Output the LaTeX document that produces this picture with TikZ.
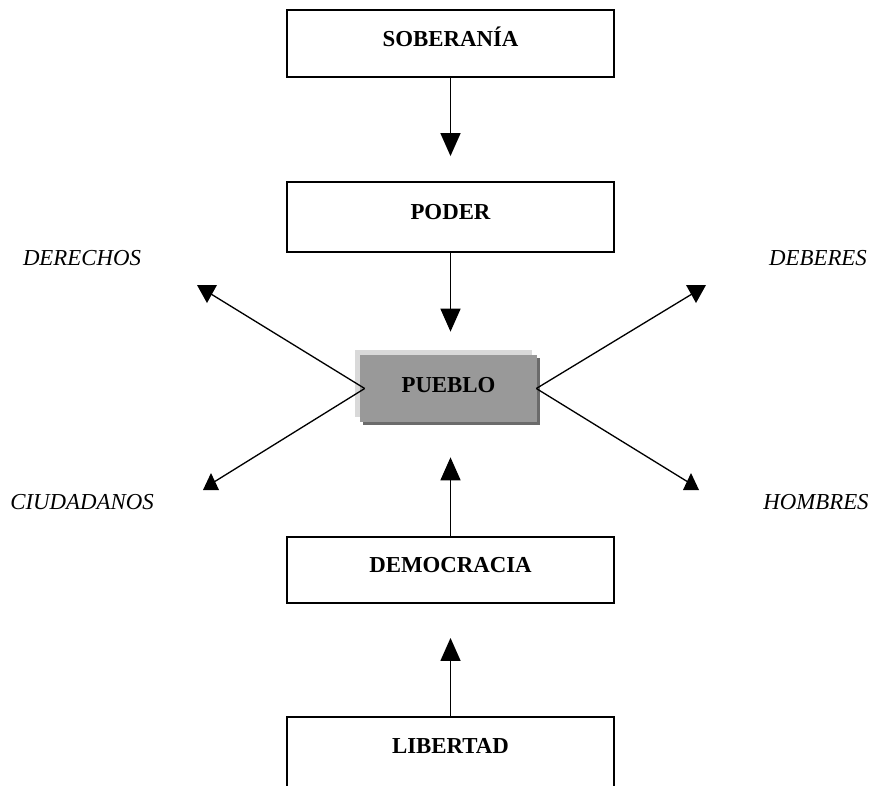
\documentclass[tikz,border=0pt]{standalone}
\usepackage{fontspec}
\setmainfont{Liberation Serif}
\usepackage{tikz}
\usetikzlibrary{arrows.meta, shadows}
\usepackage{xcolor}

\definecolor{puebloGray}{gray}{0.6}
\definecolor{shadeLight}{gray}{0.85}
\definecolor{shadeDark}{gray}{0.42}

\begin{document}
\begin{tikzpicture}[x=0.02cm, y=-0.02cm,
    box/.style={draw, line width=1.1pt, minimum width=6.54cm, minimum height=1.34cm,
        font=\fontsize{13}{15}\selectfont\bfseries, text height=9pt, text depth=6pt},
    pueblobox/.style={fill=puebloGray, minimum width=3.54cm, minimum height=1.34cm,
        font=\fontsize{13}{15}\selectfont\bfseries, text height=9pt, text depth=4pt,
        general shadow={fill=shadeLight, shadow xshift=-0.1cm, shadow yshift=0.1cm},
        general shadow={fill=shadeDark, shadow xshift=0.06cm, shadow yshift=-0.06cm}},
    tag/.style={font=\fontsize{13}{15}\selectfont\itshape},
    vline/.style={line width=0.9pt, -{Triangle[width=0.4cm, length=0.46cm]}},
    dline/.style={line width=0.75pt},
    headdown/.pic={\fill (0,0) -- (-10,-18) -- (10,-18) -- cycle;},
    headup/.pic={\fill (0,0) -- (-8,17) -- (8,17) -- cycle;}]
    \useasboundingbox (0,0) rectangle (872,785);
    \clip (0,0) rectangle (872,785);

    % Chain of boxes
    \node[box] (soberania) at (450.5,43.5) {SOBERANÍA};
    \node[box, minimum height=1.4cm] (poder) at (450.5,217) {PODER};
    \node[pueblobox] (pueblo) at (448.5,388.5) {PUEBLO};
    \node[box, minimum height=1.32cm] (democracia) at (450.5,570) {DEMOCRACIA};
    % last box runs off the bottom edge
    \node[box, minimum height=1.5cm, text depth=10pt] (libertad) at (450.5,754.5) {LIBERTAD};

    % Vertical arrows
    \draw[vline, shorten >=0.5cm] (soberania) -- (poder);
    \draw[vline, shorten >=0.46cm] (poder.south) -- (poder.south |- pueblo.north);
    \draw[vline, shorten >=0.7cm] (democracia.north) -- (democracia.north |- pueblo.south);
    \draw[vline, shorten >=0.68cm] (libertad) -- (democracia);

    % Side labels
    \node[tag] (derechos) at (82,258) {DERECHOS};
    \node[tag] (ciudadanos) at (82,502) {CIUDADANOS};
    \node[tag] (deberes) at (818,258) {DEBERES};
    \node[tag] (hombres) at (816,502) {HOMBRES};

    % Diagonal arrows out of PUEBLO
    \coordinate (endDer) at (211,294);
    \coordinate (endCiu) at (214,482);
    \coordinate (endDeb) at (692,294);
    \coordinate (endHom) at (688,482);
    \draw[dline] ([xshift=0.1cm]pueblo.west) -- (endDer);
    \draw[dline] ([xshift=0.1cm]pueblo.west) -- (endCiu);
    \draw[dline] ([xshift=-0.02cm]pueblo.east) -- (endDeb);
    \draw[dline] ([xshift=-0.02cm]pueblo.east) -- (endHom);
    \pic at (207,303) {headdown};
    \pic at (211,473) {headup};
    \pic at (696,303) {headdown};
    \pic at (691,473) {headup};
\end{tikzpicture}
\end{document}
